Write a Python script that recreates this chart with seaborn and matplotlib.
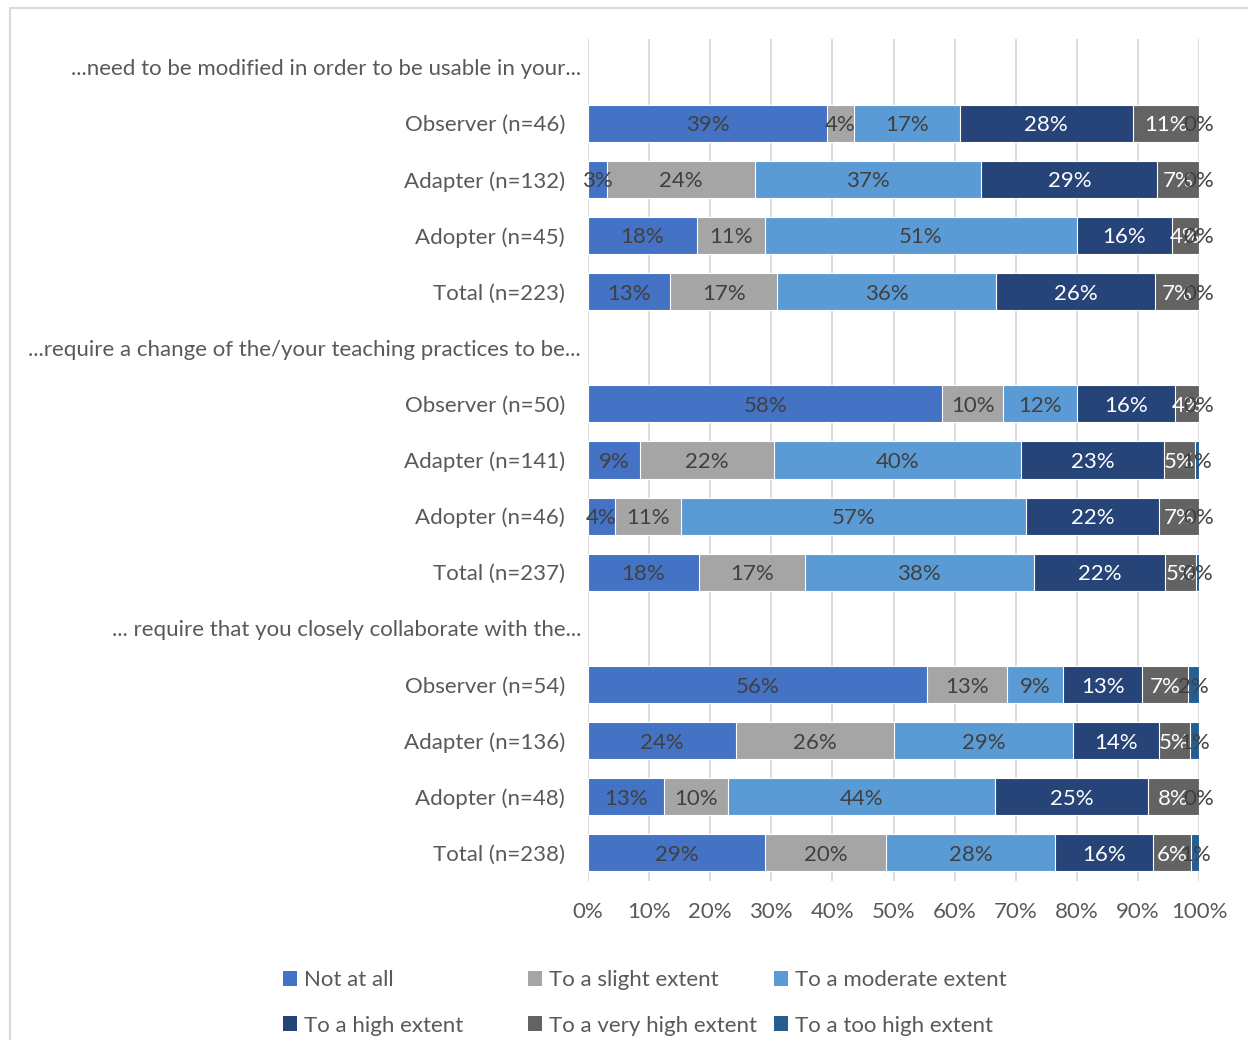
import numpy as np
import pandas as pd
import matplotlib
matplotlib.use("Agg")
import matplotlib.pyplot as plt
import seaborn as sns
from matplotlib.patches import Patch, Rectangle

# rows of the chart, top to bottom (header rows carry no bar)
row_labels = [
    "...need to be modified in order to be usable in your...",
    "Observer (n=46)", "Adapter (n=132)", "Adopter (n=45)", "Total (n=223)",
    "...require a change of the/your teaching practices to be...",
    "Observer (n=50)", "Adapter (n=141)", "Adopter (n=46)", "Total (n=237)",
    "... require that you closely collaborate with the...",
    "Observer (n=54)", "Adapter (n=136)", "Adopter (n=48)", "Total (n=238)",
]
header_rows = [0, 5, 10]
bar_rows = [r for r in row_labels if row_labels.index(r) not in header_rows]

categories = ["Not at all", "To a slight extent", "To a moderate extent",
              "To a high extent", "To a very high extent", "To a too high extent"]

# percentages per bar row (same order as bar_rows)
not_at_all = [39.13, 3.03, 17.78, 13.45, 58.00, 8.51, 4.35, 18.14, 55.56, 24.26, 12.50, 28.99]
slight     = [4.35, 24.24, 11.11, 17.49, 10.00, 21.99, 10.87, 17.30, 12.96, 25.74, 10.42, 19.75]
moderate   = [17.39, 37.12, 51.11, 35.87, 12.00, 40.43, 56.52, 37.55, 9.26, 29.41, 43.75, 27.73]
high       = [28.26, 28.79, 15.56, 26.01, 16.00, 23.40, 21.74, 21.52, 12.96, 13.97, 25.00, 15.97]
very_high  = [10.87, 6.82, 4.44, 7.17, 4.00, 4.96, 6.52, 5.06, 7.41, 5.15, 8.33, 6.30]
too_high   = [0.00, 0.00, 0.00, 0.00, 0.00, 0.71, 0.00, 0.42, 1.85, 1.47, 0.00, 1.26]

colors = ["#4472C4", "#A5A5A5", "#5B9BD5", "#264478", "#636363", "#255E91"]
label_colors = ["#404040", "#404040", "#404040", "white", "white", "#404040"]

df = pd.DataFrame({"row": bar_rows, categories[0]: not_at_all, categories[1]: slight,
                   categories[2]: moderate, categories[3]: high,
                   categories[4]: very_high, categories[5]: too_high})
cum = df[categories].cumsum(axis=1)

sns.set_style("white")
plt.rcParams["font.family"] = ["Lato", "DejaVu Sans"]
text_color = "#595959"
fs = 16

fig = plt.figure(figsize=(12.48, 10.4), dpi=100)
ax = fig.add_axes([588 / 1248, 1 - 881 / 1040, 611 / 1248, 842 / 1040])

# stacked bars: draw cumulative totals from the last category backwards
for k in range(len(categories) - 1, -1, -1):
    sns.barplot(x=cum[categories[k]], y=df["row"], order=row_labels, orient="h",
                color=colors[k], width=0.66, errorbar=None, ax=ax,
                edgecolor="white", linewidth=0.8, saturation=1)

for i, r in enumerate(bar_rows):
    y = row_labels.index(r)
    for k, c in enumerate(categories):
        v = df.loc[i, c]
        ax.text(cum.loc[i, c] - v / 2, y, "%d%%" % int(v + 0.5), ha="center",
                va="center_baseline", fontsize=fs, color=label_colors[k])

ax.set_xlim(0, 100)
ax.set_ylim(14.5, -0.5)
ax.set_xticks(range(0, 101, 10))
ax.set_xticklabels(["%d%%" % t for t in range(0, 101, 10)])
ax.set_xlabel("")
ax.set_ylabel("")
ax.tick_params(axis="both", length=0, labelsize=fs, colors=text_color)
ax.tick_params(axis="x", pad=15)
for i, tick in enumerate(ax.yaxis.get_major_ticks()):
    tick.set_pad(5 if i in header_rows else 16.5)
for s in ax.spines.values():
    s.set_visible(False)
ax.set_axisbelow(True)
ax.grid(axis="x", color="#d9d9d9", linewidth=1.3)
ax.grid(axis="y", visible=False)

# legend: three columns of two entries
handles = [Patch(facecolor=c, edgecolor="none") for c in colors]
col_x = [283 / 1248, 528 / 1248, 774 / 1248]
for j in range(3):
    leg = fig.legend([handles[j], handles[j + 3]], [categories[j], categories[j + 3]],
                     loc="upper left", bbox_to_anchor=(col_x[j], 1 - 970 / 1040),
                     frameon=False, fontsize=fs, handlelength=0.65, handleheight=0.65,
                     handletextpad=0.3, borderpad=0, borderaxespad=0, labelspacing=1.15,
                     labelcolor=text_color)

fig.add_artist(Rectangle((10 / 1248, -0.05), 1.0, 1.05 - 8 / 1040, transform=fig.transFigure,
                         fill=False, edgecolor="#d9d9d9", linewidth=1.5))

fig.savefig("out.png", dpi=100)
